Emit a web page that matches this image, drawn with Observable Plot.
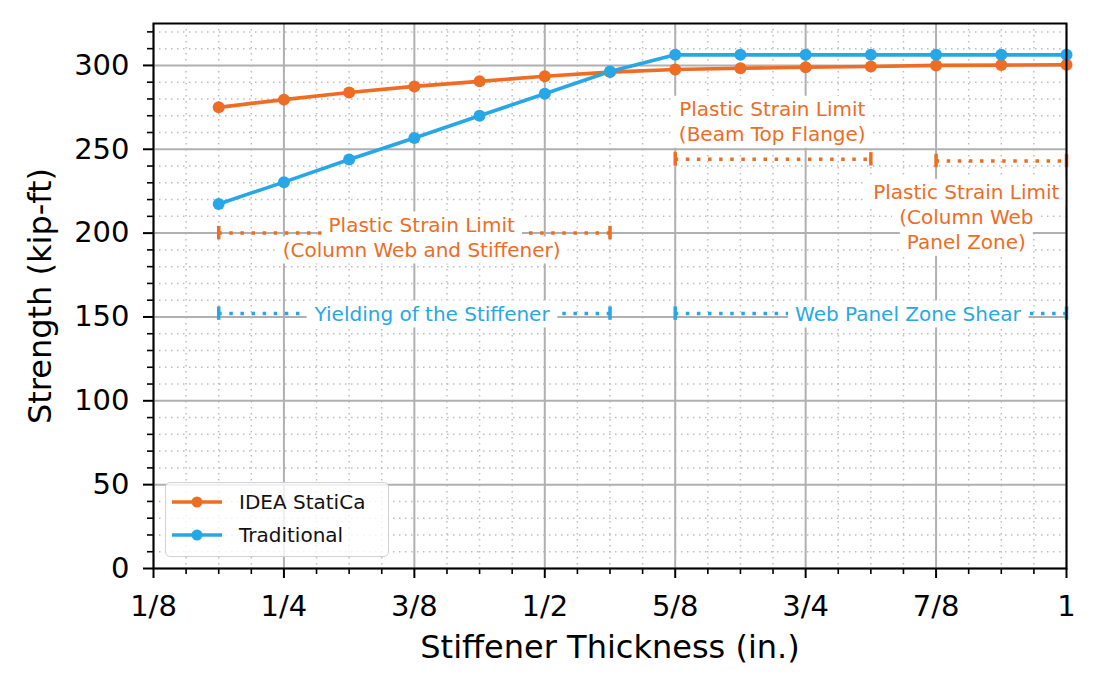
<!DOCTYPE html>
<html>
<head>
<meta charset="utf-8">
<script src="https://cdn.jsdelivr.net/npm/d3@7"></script>
<script src="https://cdn.jsdelivr.net/npm/@observablehq/plot@0.6"></script>
<style>
  html, body { margin: 0; padding: 0; background: white; }
  #wrap { position: relative; width: 1100px; height: 690px; font-family: "DejaVu Sans", sans-serif; }
  #legend { position: absolute; left: 165px; top: 482px; width: 222px; height: 73px;
            border: 1.5px solid #d2d2d2; border-radius: 5px; background: rgba(255,255,255,0.8); }
  .row { position: absolute; left: 0; height: 30px; display: flex; align-items: center; font-size: 20px; color: #111; }
  .row svg { margin-left: 6px; margin-right: 17px; }
</style>
</head>
<body>
<div id="wrap"></div>
<script>
// ---- data ----
const xValues = [3/16, 1/4, 5/16, 3/8, 7/16, 1/2, 9/16, 5/8, 11/16, 3/4, 13/16, 7/8, 15/16, 1];
const ideaStatiCa = [275, 279.6, 283.9, 287.5, 290.5, 293.5, 296, 297.6, 298.3, 298.9, 299.4, 300, 300.2, 300.4];
const traditional = [217.4, 230.4, 243.9, 256.7, 270, 283.1, 296.4, 306.3, 306.3, 306.3, 306.3, 306.3, 306.3, 306.3];
const seriesNames = ["IDEA StatiCa", "Traditional"];
const seriesColors = ["#ee6c24", "#28a7e6"];

const xTicks = [1/8, 2/8, 3/8, 4/8, 5/8, 6/8, 7/8, 1];
const xTickLabels = ["1/8", "1/4", "3/8", "1/2", "5/8", "3/4", "7/8", "1"];
const xMinor = [5,6,7, 9,10,11, 13,14,15, 17,18,19, 21,22,23, 25,26,27, 29,30,31].map(k => k/32);
const yTicks = [0, 50, 100, 150, 200, 250, 300];
const yMinor = [10,20,30,40, 60,70,80,90, 110,120,130,140, 160,170,180,190, 210,220,230,240, 260,270,280,290, 310,320];

const xLabel = "Stiffener Thickness (in.)";
const yLabel = "Strength (kip-ft)";

// limit ranges (dotted, capped)
const rangeX1 = [3/16, 5/8, 7/8, 3/16, 5/8];
const rangeX2 = [9/16, 13/16, 1, 9/16, 1];
const rangeY  = [200, 244, 243, 152, 152];
const rangeSeries = [0, 0, 0, 1, 1];

// annotation texts
const annLines = [
  ["Plastic Strain Limit", "(Column Web and Stiffener)"],
  ["Plastic Strain Limit", "(Beam Top Flange)"],
  ["Plastic Strain Limit", "(Column Web", "Panel Zone)"],
  ["Yielding of the Stiffener"],
  ["Web Panel Zone Shear"]
];
const annX = [0.382, 0.718, 0.904, 0.392, 0.848];
const annY = [198, 267, 210, 152.4, 152.4];
const annSeries = [0, 0, 0, 1, 1];

// ---- tables ----
const points = [];
xValues.forEach((x, i) => points.push({x, y: ideaStatiCa[i], s: seriesNames[0]}));
xValues.forEach((x, i) => points.push({x, y: traditional[i], s: seriesNames[1]}));
const ranges = rangeX1.map((x1, i) => ({x1, x2: rangeX2[i], y: rangeY[i], c: seriesColors[rangeSeries[i]]}));
const caps = ranges.flatMap(r => [{x: r.x1, y: r.y, c: r.c}, {x: r.x2, y: r.y, c: r.c}]);
const anns = annLines.map((lines, i) => ({text: lines.join("\n"), x: annX[i], y: annY[i], c: seriesColors[annSeries[i]]}));

const chart = Plot.plot({
  width: 1100,
  height: 690,
  marginLeft: 153,
  marginRight: 34,
  marginTop: 23,
  marginBottom: 122,
  style: {fontFamily: "DejaVu Sans, sans-serif", fontSize: "20px", background: "white", color: "black", overflow: "visible"},
  x: {domain: [0.125, 1]},
  y: {domain: [0, 325]},
  color: {domain: seriesNames, range: seriesColors},
  marks: [
    Plot.gridX(xMinor, {stroke: "#bdbdbd", strokeOpacity: 1, strokeWidth: 1.5, strokeDasharray: "1.5,4.5"}),
    Plot.gridY(yMinor, {stroke: "#bdbdbd", strokeOpacity: 1, strokeWidth: 1.5, strokeDasharray: "1.5,4.5"}),
    Plot.gridX(xTicks, {stroke: "#b0b0b0", strokeOpacity: 1, strokeWidth: 2}),
    Plot.gridY(yTicks, {stroke: "#b0b0b0", strokeOpacity: 1, strokeWidth: 2}),
    Plot.axisX(xMinor, {tickSize: 6, strokeWidth: 1.6, tickFormat: () => "", label: null}),
    Plot.axisY(yMinor, {tickSize: 6, strokeWidth: 1.6, tickFormat: () => "", label: null}),
    Plot.axisX(xTicks, {tickSize: 10, tickPadding: 17, strokeWidth: 2, fontSize: 29, fill: "black",
      tickFormat: d => xTickLabels[xTicks.indexOf(d)], label: null}),
    Plot.axisY(yTicks, {tickSize: 10, tickPadding: 14, strokeWidth: 2, fontSize: 29, fill: "black", label: null}),
    // limit lines
    Plot.ruleY(ranges, {x1: "x1", x2: "x2", y: "y", stroke: "c", strokeWidth: 3.5, strokeDasharray: "3.5,7.6"}),
    Plot.ruleX(caps, {x: "x", y1: d => d.y - 4, y2: d => d.y + 4, stroke: "c", strokeWidth: 3.5}),
    Plot.text(anns, {x: "x", y: "y", text: "text", fill: "c", fontSize: 20, lineHeight: 1.25,
      lineAnchor: "middle", textAnchor: "middle"}),
    // series
    Plot.line(points, {x: "x", y: "y", z: "s", stroke: "s", strokeWidth: 3.6}),
    Plot.dot(points, {x: "x", y: "y", fill: "s", r: 6}),
    Plot.frame({stroke: "black", strokeWidth: 2}),
    // axis titles
    Plot.text([yLabel], {frameAnchor: "left", dx: -113, rotate: -90, fontSize: 32, fill: "black",
      textAnchor: "middle", lineAnchor: "middle"}),
    Plot.text([xLabel], {frameAnchor: "bottom", dy: 79, fontSize: 32, fill: "black", textAnchor: "middle", lineAnchor: "middle"})
  ]
});

const wrap = document.getElementById("wrap");
wrap.appendChild(chart);

// white boxes behind each annotation line
const annKeys = new Set(annLines.map(l => l.join("")));
const svgNS = "http://www.w3.org/2000/svg";
Array.from(chart.querySelectorAll("text")).filter(t => annKeys.has(t.textContent)).forEach(t => {
  const g = t.parentNode;
  const spans = t.querySelectorAll("tspan");
  const parts = spans.length ? Array.from(spans) : [t];
  const tr = t.getAttribute("transform");
  parts.forEach(p => {
    let b;
    try { b = p.getBBox(); } catch (e) { b = null; }
    if (!b || b.width === 0) b = t.getBBox();
    const padX = 7, padY = 1.5;
    const r = document.createElementNS(svgNS, "rect");
    r.setAttribute("x", b.x - padX);
    r.setAttribute("y", b.y - padY);
    r.setAttribute("width", b.width + 2 * padX);
    r.setAttribute("height", b.height + 2 * padY);
    r.setAttribute("fill", "white");
    if (tr) r.setAttribute("transform", tr);
    g.insertBefore(r, g.firstChild);
  });
});

// legend
const legend = document.createElement("div");
legend.id = "legend";
seriesNames.forEach((name, i) => {
  const row = document.createElement("div");
  row.className = "row";
  row.style.top = (4 + i * 33) + "px";
  row.innerHTML = `<svg width="50" height="14"><line x1="0" y1="7" x2="50" y2="7" stroke="${seriesColors[i]}" stroke-width="3.6"/><circle cx="25" cy="7" r="5.5" fill="${seriesColors[i]}"/></svg><span>${name}</span>`;
  legend.appendChild(row);
});
wrap.appendChild(legend);
</script>
</body>
</html>
